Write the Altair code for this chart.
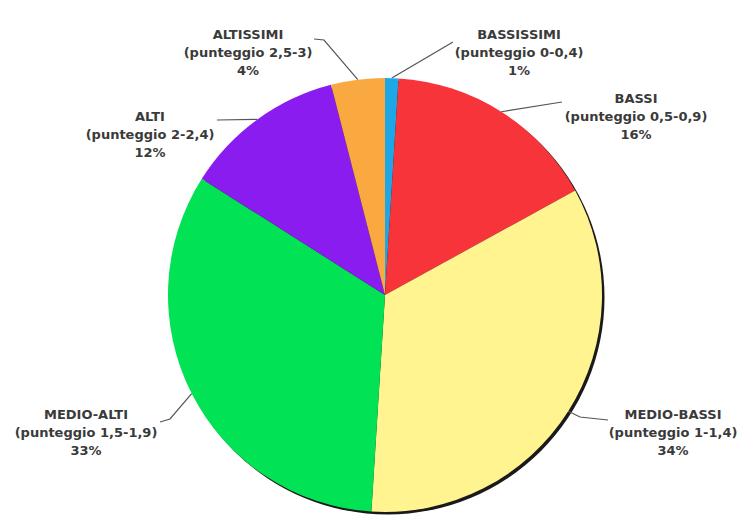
import altair as alt
import numpy as np
import pandas as pd

# ---- data ----
labels = ["BASSISSIMI", "BASSI", "MEDIO-BASSI", "MEDIO-ALTI", "ALTI", "ALTISSIMI"]
ranges = ["(punteggio 0-0,4)", "(punteggio 0,5-0,9)", "(punteggio 1-1,4)",
          "(punteggio 1,5-1,9)", "(punteggio 2-2,4)", "(punteggio 2,5-3)"]
values = [1, 16, 34, 33, 12, 4]
colors = ["#1EA7E6", "#F8343B", "#FFF490", "#02E255", "#8A1CF0", "#F9A940"]

# ---- layout (pixels) ----
W, H = 742, 515
CX, CY, R = 385, 295, 217
label_x = [519, 636, 673, 86, 150, 248]
label_y = [35, 99, 415, 415, 117, 35]
# leader line start points (next to label) and optional elbow
line_start = [(453, 42), (562, 102), (608, 420), (160, 422), (217, 120), (314, 39)]
line_elbow = [None, None, (580, 417), (170, 419), None, (324, 40)]

n = len(values)
pie_df = pd.DataFrame({"label": labels, "value": values, "idx": list(range(n))})

text_df = pd.DataFrame({
    "txt": [f"{l}\n{r}\n{v}%" for l, r, v in zip(labels, ranges, values)],
    "x": label_x, "y": label_y,
})

vals = np.array(values, dtype=float)
cum = np.cumsum(vals)
mid = (cum - vals / 2) / vals.sum() * 2 * np.pi
px = CX + R * np.sin(mid)
py = CY - R * np.cos(mid)

rows = []
for i in range(n):
    pts = [line_start[i]]
    if line_elbow[i] is not None:
        pts.append(line_elbow[i])
    pts.append((px[i], py[i]))
    for k, (a, b) in enumerate(pts):
        rows.append({"label": labels[i], "k": k, "x": a, "y": b})
line_df = pd.DataFrame(rows)

xs = alt.Scale(domain=[0, W])
ys = alt.Scale(domain=[0, H], reverse=True)

shadow = alt.Chart(pie_df.head(1)).mark_arc(
    theta=0, theta2=2 * np.pi, radius=R, color="#1a1a1a"
).encode(x=alt.value(CX + 2.5), y=alt.value(CY + 2.5))

lines = alt.Chart(line_df).mark_line(color="#555555", strokeWidth=1.2).encode(
    x=alt.X("x:Q", scale=xs, axis=None),
    y=alt.Y("y:Q", scale=ys, axis=None),
    detail="label:N",
    order="k:Q",
)

pie = alt.Chart(pie_df).mark_arc(radius=R, stroke=None).encode(
    theta=alt.Theta("value:Q", stack=True),
    order=alt.Order("idx:Q"),
    color=alt.Color("label:N", scale=alt.Scale(domain=labels, range=colors), legend=None),
    x=alt.value(CX),
    y=alt.value(CY),
)

texts = alt.Chart(text_df).mark_text(
    lineBreak="\n", lineHeight=18, align="center", baseline="middle",
    font="DejaVu Sans", fontWeight="bold", fontSize=13, color="#3a3a3a",
).encode(
    x=alt.X("x:Q", scale=xs, axis=None),
    y=alt.Y("y:Q", scale=ys, axis=None),
    text="txt:N",
)

chart = alt.layer(shadow, lines, pie, texts).properties(
    width=W, height=H, autosize="none", padding=0, background="white"
).configure_view(stroke=None)

chart.save("out.html", embed_options={"renderer": "svg", "actions": False})
